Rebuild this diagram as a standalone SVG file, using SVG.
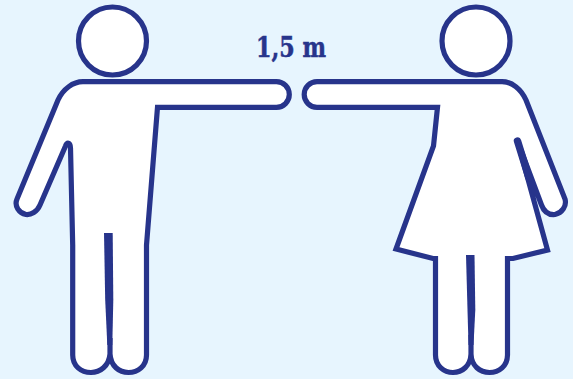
<svg xmlns="http://www.w3.org/2000/svg" width="573" height="379" viewBox="0 0 573 379">
<style>
.s{fill:#fff;stroke:#27348B;stroke-width:5.200;stroke-linejoin:miter;stroke-linecap:round}
.w{fill:#27348B}
.c{fill:none;stroke:#27348B;stroke-width:7.500;stroke-linecap:round}
text{font-family:"DejaVu Serif","Liberation Serif",serif;font-weight:700;font-size:28px;font-stretch:condensed;fill:#27348B;stroke:#27348B;stroke-width:.5}
</style>
<rect width="573" height="379" fill="#E7F5FE"/>
<g id="man">
<circle class="s" cx="112.500" cy="41" r="34"/>
<path class="s" d="M83 81.700H276.500A12.800 12.800 0 0 1 276.500 107.300H157.500L146.500 245V355C146.500 366 138 372.500 128.500 372.500C119 372.500 110.800 366 110 354V338V354C109 366 100 372.500 91 372.500C81 372.500 72.700 366 72.700 355V245L70.500 148C70.300 142 67 142 65.500 146L40 205C37 212 31 215 26 214.500C19 213 14 206 17 199L58 100C63 89 73 81.700 83 81.700Z"/>
<polygon class="w" points="104,233 112.700,233 113.300,300 112.300,345 107.300,345 105.200,300"/>
</g>
<g id="woman">
<circle class="s" cx="476" cy="41" r="34"/>
<path class="s" d="M502 81.700H317A12.800 12.800 0 0 0 317 107.300H437.500L433.500 146L396 249L433 258.500H435.500V355C435.500 366 444 372.500 453 372.500C462 372.500 470.500 366 471 354V335V354C471.500 366 480 372.500 489.500 372.500C499 372.500 507.500 366 507.500 355V258.500H513L547.500 250L517.500 141L541.500 205C544 212 549 215 555 214.500C562 213 567 206 565 199L526 100C521 89 512 81.700 502 81.700Z"/>
<polygon class="w" points="466,255 474.500,255 475.300,310 473.500,345 468.500,345 467.500,310"/>
<path class="c" d="M517.500 141L529 178"/>
</g>
<text x="256" y="57" textLength="70" lengthAdjust="spacingAndGlyphs">1,5 m</text>
</svg>
